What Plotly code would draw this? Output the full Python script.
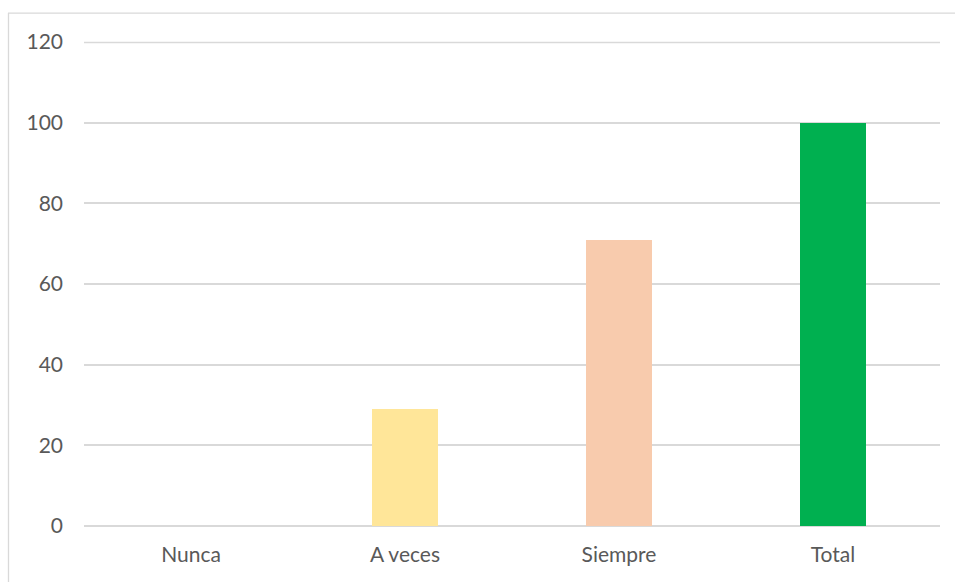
import plotly.graph_objects as go

categories = ["Nunca", "A veces", "Siempre", "Total"]
values = [0, 29, 71, 100]
bar_colors = ["#FFE699", "#FFE699", "#F8CBAD", "#00B050"]
y_ticks = [0, 20, 40, 60, 80, 100, 120]

W, H = 955, 582
ML, MR, MT, MB = 84, 15, 42, 55.5
PW = W - ML - MR
PH = H - MT - MB

def px_x(p):
    return (p - ML) / PW

def px_y(p):
    return (H - MB - p) / PH

fig = go.Figure(
    go.Bar(
        x=categories,
        y=values,
        marker=dict(color=bar_colors, line=dict(width=0)),
        width=0.313,
        hoverinfo="x+y",
    )
)

border = "#D9D9D9"
fig.add_shape(type="line", xref="paper", yref="paper",
              x0=px_x(8.5), x1=px_x(8.5), y0=px_y(13), y1=px_y(600),
              line=dict(color=border, width=1.3))
fig.add_shape(type="line", xref="paper", yref="paper",
              x0=px_x(8), x1=px_x(960), y0=px_y(13), y1=px_y(13),
              line=dict(color=border, width=1.3))
# top gridline at the range edge (drawn in paper coords so it is not clipped)
fig.add_shape(type="line", xref="paper", yref="paper", layer="below",
              x0=0, x1=1, y0=px_y(MT + 0.5), y1=px_y(MT + 0.5),
              line=dict(color="#D9D9D9", width=1.5))

font = dict(family="Lato, Open Sans, sans-serif", size=21, color="#595959")

fig.update_layout(
    width=W, height=H,
    margin=dict(l=ML, r=MR, t=MT, b=MB, pad=0),
    paper_bgcolor="white",
    plot_bgcolor="white",
    showlegend=False,
    font=font,
    bargap=0,
    xaxis=dict(
        showgrid=False, zeroline=False, showline=False,
        ticks="", tickfont=font, ticklabelstandoff=14,
        fixedrange=True,
    ),
    yaxis=dict(
        range=[0, 120], tickvals=y_ticks, ticktext=[str(v) for v in y_ticks],
        showgrid=True, gridcolor="#D9D9D9", gridwidth=1.5,
        zeroline=True, zerolinecolor="#D9D9D9", zerolinewidth=1.5,
        showline=False, ticks="", layer="below traces",
        tickfont=font, ticklabelstandoff=20, fixedrange=True,
    ),
)

fig.write_html("out.html")
